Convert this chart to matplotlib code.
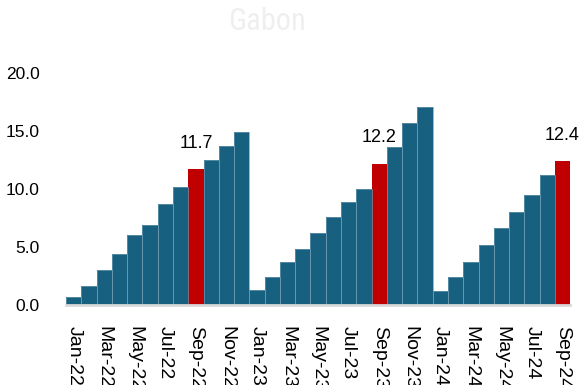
import matplotlib.pyplot as plt
import numpy as np

# ----- Data (monthly, Jan-22 .. Sep-24) -----
months = ["Jan", "Feb", "Mar", "Apr", "May", "Jun",
          "Jul", "Aug", "Sep", "Oct", "Nov", "Dec"]
years = ["22", "23", "24"]
labels = [f"{m}-{y}" for y in years for m in months][:33]

values_2022 = [0.7, 1.6, 3.0, 4.4, 6.0, 6.9, 8.7, 10.2, 11.7, 12.5, 13.7, 14.9]
values_2023 = [1.3, 2.4, 3.7, 4.8, 6.2, 7.6, 8.9, 10.0, 12.2, 13.6, 15.7, 17.1]
values_2024 = [1.2, 2.4, 3.7, 5.2, 6.6, 8.0, 9.5, 11.2, 12.4]
values = values_2022 + values_2023 + values_2024

highlight = ["Sep-22", "Sep-23", "Sep-24"]

BLUE = "#17607f"
RED = "#c00000"

plt.rcParams["font.family"] = ["Liberation Sans", "DejaVu Sans"]

fig = plt.figure(figsize=(5.8, 3.85), dpi=100)
ax = fig.add_axes([0.114, 0.208, 0.869, 0.602])

x = np.arange(len(values))
colors = [RED if lab in highlight else BLUE for lab in labels]
ax.bar(x, values, width=1.0, color=colors, linewidth=0)
# thin light outline on the blue steps
blue_idx = [i for i, lab in enumerate(labels) if lab not in highlight]
ax.bar(x[blue_idx], [values[i] for i in blue_idx], width=1.0, color="none",
       edgecolor="#6f9bb3", linewidth=0.5)

for xi, lab, v in zip(x, labels, values):
    if lab in highlight:
        ax.text(xi, v + 1.5, f"{v:.1f}", ha="center", va="bottom",
                fontsize=13, color="black")

ax.set_xlim(-0.5, len(values) - 0.5)
ax.set_ylim(0, 20)
yt = np.arange(0, 20.1, 5)
ax.set_yticks(yt)
ax.set_yticklabels([f"{t:.1f}" for t in yt], fontsize=12.5)

ax.set_xticks(x[::2])
ax.set_xticklabels(labels[::2], rotation=270, fontsize=14)

ax.tick_params(axis="both", length=0)
ax.tick_params(axis="y", pad=19)
ax.tick_params(axis="x", pad=15)
for side in ["top", "right", "left"]:
    ax.spines[side].set_visible(False)
ax.spines["bottom"].set_color("#d9d9d9")
ax.spines["bottom"].set_linewidth(2)
ax.spines["bottom"].set_zorder(3)

fig.text(0.46, 0.945, "Gabon", ha="center", va="center",
         fontsize=22, color="#efefef", family="Roboto Condensed")

fig.savefig("out.png", dpi=100)
